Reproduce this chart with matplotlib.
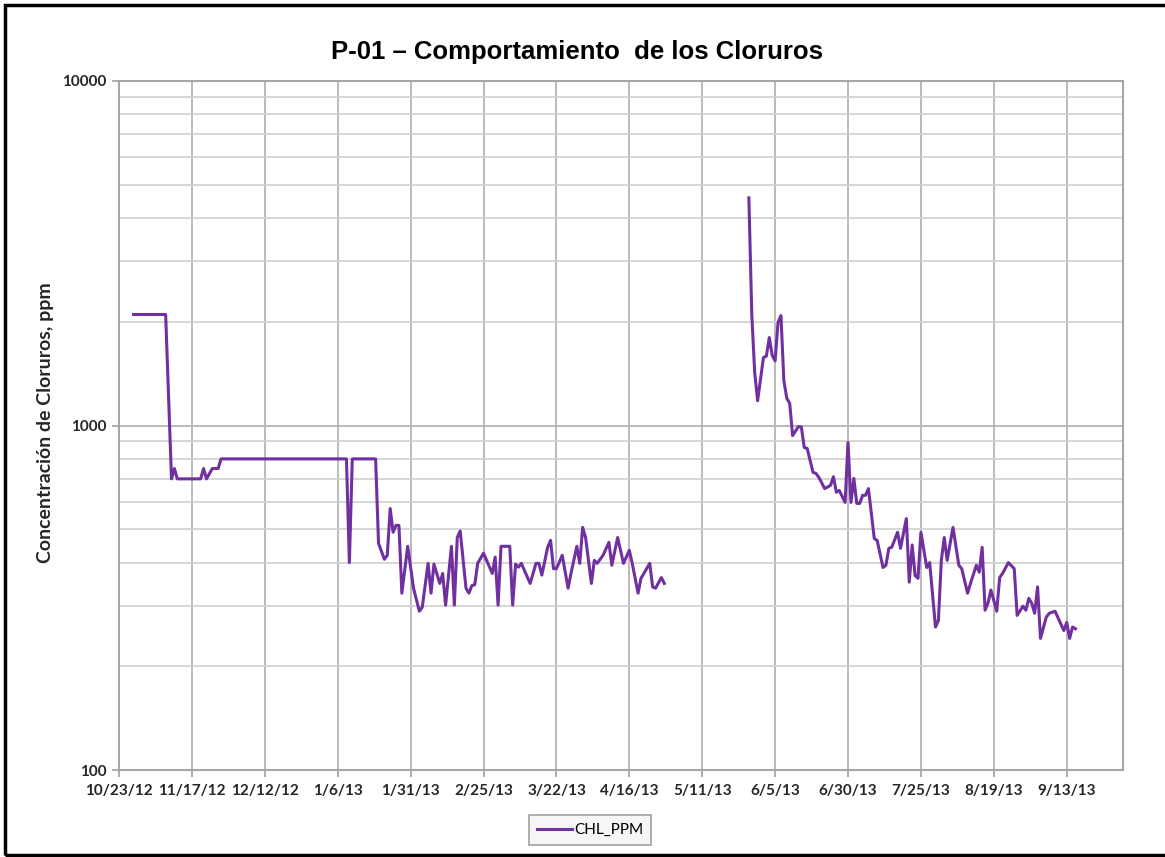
import numpy as np
import pandas as pd
import matplotlib
matplotlib.use("Agg")
import matplotlib.pyplot as plt
import matplotlib.dates as mdates
from matplotlib.patches import Rectangle
from matplotlib.ticker import LogLocator, FixedLocator, NullFormatter

# fecha de inicio del eje y dias de muestreo
inicio = pd.Timestamp("2012-10-23")

# primera campaña
dias_1 = [5, 16, 18, 19, 20, 28, 29, 30, 32, 34,
          35, 78, 79, 80, 88, 89, 91, 92, 93, 94,
          95, 96, 97, 99, 101, 103, 104, 106, 107, 108,
          110, 111, 112, 114, 115, 116, 117, 119, 120, 121,
          122, 123, 125, 128, 129, 130, 131, 134, 135, 136,
          137, 138, 139, 141, 143, 144, 145, 147, 148, 149,
          150, 152, 154, 155, 157, 158, 159, 160, 162, 163,
          164, 166, 168, 169, 171, 173, 175, 176, 178, 179,
          182, 183, 184, 186, 187]
chl_1 = [2100, 2100, 700, 750, 700, 700, 750, 700, 750, 750,
         800, 800, 400, 800, 800, 455, 409, 420, 574, 490,
         513, 513, 326, 446, 337, 289, 297, 398, 326, 396,
         348, 372, 301, 446, 301, 473, 494, 337, 326, 343,
         345, 398, 426, 372, 415, 301, 446, 446, 301, 396,
         388, 398, 380, 348, 398, 398, 368, 443, 464, 384,
         384, 420, 337, 372, 446, 398, 506, 473, 348, 406,
         398, 420, 458, 393, 473, 398, 434, 398, 326, 360,
         398, 340, 337, 362, 348]

# segunda campaña
dias_2 = [216, 217, 218, 219, 221, 222, 223, 224, 225, 226,
          227, 228, 229, 230, 231, 233, 234, 235, 236, 238,
          239, 240, 242, 244, 245, 246, 247, 249, 250, 251,
          252, 253, 254, 255, 256, 257, 259, 260, 262, 263,
          264, 265, 267, 268, 270, 271, 272, 273, 274, 275,
          277, 278, 280, 281, 282, 283, 284, 286, 288, 289,
          291, 292, 294, 295, 296, 297, 298, 299, 301, 302,
          303, 305, 307, 308, 310, 311, 312, 313, 314, 315,
          316, 318, 319, 321, 324, 325, 326, 327, 328]
chl_2 = [4580, 2100, 1425, 1180, 1574, 1590, 1800, 1600, 1540, 1990,
         2085, 1350, 1200, 1160, 935, 993, 990, 863, 858, 731,
         726, 707, 656, 670, 710, 640, 648, 598, 893, 598,
         702, 594, 594, 627, 627, 656, 470, 464, 387, 393,
         440, 443, 490, 440, 537, 351, 450, 367, 360, 490,
         387, 400, 260, 272, 406, 473, 406, 506, 393, 384,
         326, 348, 393, 375, 443, 291, 305, 333, 289, 362,
         372, 400, 384, 281, 299, 291, 315, 305, 285, 340,
         241, 278, 285, 289, 254, 268, 241, 260, 257]

# marcas del eje x cada 25 dias
dias_ticks = [0, 25, 50, 75, 100, 125, 150, 175, 200, 225, 250, 275, 300, 325]
etiquetas_x = ["10/23/12", "11/17/12", "12/12/12", "1/6/13", "1/31/13", "2/25/13",
               "3/22/13", "4/16/13", "5/11/13", "6/5/13", "6/30/13", "7/25/13",
               "8/19/13", "9/13/13"]

fechas_1 = inicio + pd.to_timedelta(dias_1, unit="D")
fechas_2 = inicio + pd.to_timedelta(dias_2, unit="D")
fechas_ticks = inicio + pd.to_timedelta(dias_ticks, unit="D")

morado = "#7030A0"
gris = "#b4b4b4"

fig = plt.figure(figsize=(11.65, 8.57), dpi=100)
ax = fig.add_axes([119 / 1165, 1 - 770 / 857, (1123 - 119) / 1165, (770 - 81) / 857])

ax.plot(fechas_1, chl_1, color=morado, lw=2.2, label="CHL_PPM")
ax.plot(fechas_2, chl_2, color=morado, lw=2.2)

ax.set_yscale("log")
ax.set_ylim(100, 10000)
ax.set_xlim(inicio, inicio + pd.Timedelta(days=344.3))

# ejes y rejilla
ax.yaxis.set_major_locator(FixedLocator([100, 1000, 10000]))
ax.yaxis.set_minor_locator(LogLocator(base=10, subs=np.arange(2, 10)))
ax.yaxis.set_minor_formatter(NullFormatter())
ax.set_yticklabels(["100", "1000", "10000"])
ax.xaxis.set_major_locator(FixedLocator(mdates.date2num(fechas_ticks)))
ax.set_xticklabels(etiquetas_x)

ax.grid(True, which="major", color=gris, lw=1.3)
ax.grid(True, which="minor", axis="y", color="#cfcfcf", lw=1.2)
ax.set_axisbelow(True)
for s in ax.spines.values():
    s.set_color("#a6a6a6")
    s.set_linewidth(1.5)

ax.tick_params(axis="both", which="major", length=5, width=1.3, color="#a6a6a6", pad=4)
ax.tick_params(axis="x", which="major", pad=5)
ax.tick_params(axis="y", which="minor", length=0)
for lbl in ax.get_xticklabels() + ax.get_yticklabels():
    lbl.set_fontfamily("Lato")
    lbl.set_fontweight("bold")
    lbl.set_fontsize(11)
    lbl.set_color("#262626")

fig.text(0.495, 1 - 52 / 857, "P-01 \u2013 Comportamiento  de los Cloruros",
         ha="center", va="center", fontsize=18.5, fontweight="bold",
         family="Liberation Sans")
fig.text(45 / 1165, 1 - 423 / 857, "Concentración de Cloruros, ppm", rotation=90,
         ha="center", va="center", fontsize=14, fontweight="bold", family="Lato",
         color="#262626")

leg = fig.legend(loc="center", bbox_to_anchor=(590 / 1165, 1 - 830 / 857),
                 fancybox=False, handlelength=2.3, handletextpad=0.1,
                 borderpad=0.5, prop={"family": "Lato", "size": 11})
leg.get_frame().set_edgecolor("#8c8c8c")
leg.get_frame().set_facecolor("#f4f4f4")
leg.get_frame().set_linewidth(1.2)

# marco exterior negro
fig.add_artist(Rectangle((5 / 1165, 2 / 857), 1.2, (855 - 5) / 857,
                         transform=fig.transFigure, fill=False,
                         edgecolor="black", lw=2.5, clip_on=False))

plt.savefig("out.png", dpi=100)
